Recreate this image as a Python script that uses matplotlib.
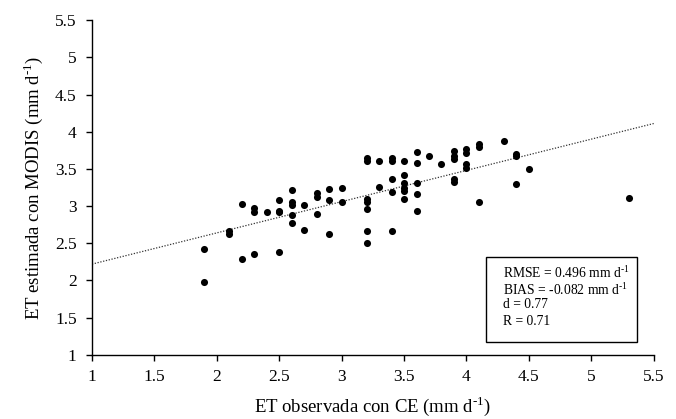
#!/usr/bin/env python3
"""
Scatter plot: ET estimated with MODIS vs ET observed with eddy covariance (CE)
"""

import matplotlib
matplotlib.use('Agg')
import matplotlib.pyplot as plt
from matplotlib.patches import Rectangle
import numpy as np

plt.rcParams['font.family'] = ['Liberation Serif', 'DejaVu Serif']
plt.rcParams['mathtext.fontset'] = 'custom'
plt.rcParams['mathtext.rm'] = 'Liberation Serif'

# Observed ET (CE), mm/day
et_observed = [
    1.9, 1.9,
    2.1, 2.1,
    2.2, 2.2,
    2.3, 2.3, 2.3,
    2.4,
    2.5, 2.5, 2.5, 2.5,
    2.6, 2.6, 2.6, 2.6, 2.6,
    2.7, 2.7,
    2.8, 2.8, 2.8,
    2.9, 2.9, 2.9,
    3.0, 3.0,
    3.2, 3.2, 3.2, 3.2, 3.2, 3.2, 3.2,
    3.3, 3.3,
    3.4, 3.4, 3.4, 3.4, 3.4,
    3.5, 3.5, 3.5, 3.5, 3.5, 3.5,
    3.6, 3.6, 3.6, 3.6, 3.6,
    3.7,
    3.8,
    3.9, 3.9, 3.9, 3.9, 3.9,
    4.0, 4.0, 4.0, 4.0,
    4.1, 4.1, 4.1,
    4.3,
    4.4, 4.4, 4.4,
    4.5,
    5.3,
]

# Estimated ET (MODIS), mm/day
et_modis = [
    2.43, 1.98,
    2.67, 2.63,
    3.03, 2.29,
    2.98, 2.92, 2.36,
    2.92,
    3.08, 2.94, 2.92, 2.38,
    3.21, 3.06, 3.01, 2.88, 2.77,
    3.01, 2.68,
    3.17, 3.12, 2.90,
    3.23, 3.08, 2.63,
    3.24, 3.06,
    3.64, 3.61, 3.10, 3.06, 2.96, 2.66, 2.51,
    3.60, 3.26,
    3.64, 3.61, 3.37, 3.19, 2.67,
    3.61, 3.42, 3.31, 3.24, 3.20, 3.10,
    3.73, 3.58, 3.31, 3.16, 2.94,
    3.67,
    3.56,
    3.74, 3.68, 3.63, 3.37, 3.32,
    3.77, 3.72, 3.56, 3.51,
    3.84, 3.79, 3.05,
    3.88,
    3.70, 3.67, 3.30,
    3.50,
    3.11,
]

# Linear trend line (slope, intercept)
trend_slope = 0.42
trend_intercept = 1.80

# superscript "-1" written with a plain hyphen, as in the original
SUP = r'$^{\mathregular{‐1}}$'

stats_lines = [
    'RMSE = 0.496 mm d' + SUP,
    'BIAS = -0.082 mm d' + SUP,
    'd = 0.77',
    'R = 0.71',
]

ticks = [1, 1.5, 2, 2.5, 3, 3.5, 4, 4.5, 5, 5.5]
tick_labels = ['1', '1.5', '2', '2.5', '3', '3.5', '4', '4.5', '5', '5.5']


def create_scatter():
    fig = plt.figure(figsize=(6.76, 4.19), dpi=100)
    ax = fig.add_axes([0.136, 0.153, 0.831, 0.799])

    # Points
    ax.scatter(et_observed, et_modis, s=26, color='black', zorder=3,
               linewidths=0)

    # Trend line over full x range
    x_line = np.array([1.0, 5.5])
    ax.plot(x_line, trend_slope * x_line + trend_intercept,
            linestyle=(0, (1, 1.3)), color='#333333', linewidth=0.9)

    ax.set_xlim(1, 5.5)
    ax.set_ylim(1, 5.5)
    ax.set_xticks(ticks)
    ax.set_xticklabels(tick_labels)
    ax.set_yticks(ticks)
    ax.set_yticklabels(tick_labels)
    ax.tick_params(axis='both', direction='out', length=4, width=1,
                   labelsize=12.5, colors='black')
    ax.tick_params(axis='x', pad=6)
    ax.tick_params(axis='y', pad=7)

    ax.spines['top'].set_visible(False)
    ax.spines['right'].set_visible(False)
    ax.spines['left'].set_linewidth(1)
    ax.spines['bottom'].set_linewidth(1)

    ax.set_xlabel('ET observada con CE (mm d' + SUP + ')',
                  fontsize=13.5, labelpad=7)
    ax.set_ylabel('ET estimada con MODIS (mm d' + SUP + ')',
                  fontsize=13.5, labelpad=7)

    # Statistics box
    box = Rectangle((0.701, 0.039), 0.269, 0.254, transform=ax.transAxes,
                    facecolor='white', edgecolor='black', linewidth=1,
                    zorder=4)
    ax.add_patch(box)
    y_pos = [0.245, 0.194, 0.150, 0.101]
    for line, yy in zip(stats_lines, y_pos):
        ax.text(0.731, yy, line, transform=ax.transAxes, fontsize=9.8,
                va='center', ha='left', zorder=5)

    fig.savefig('out.png', dpi=100)


if __name__ == "__main__":
    create_scatter()
